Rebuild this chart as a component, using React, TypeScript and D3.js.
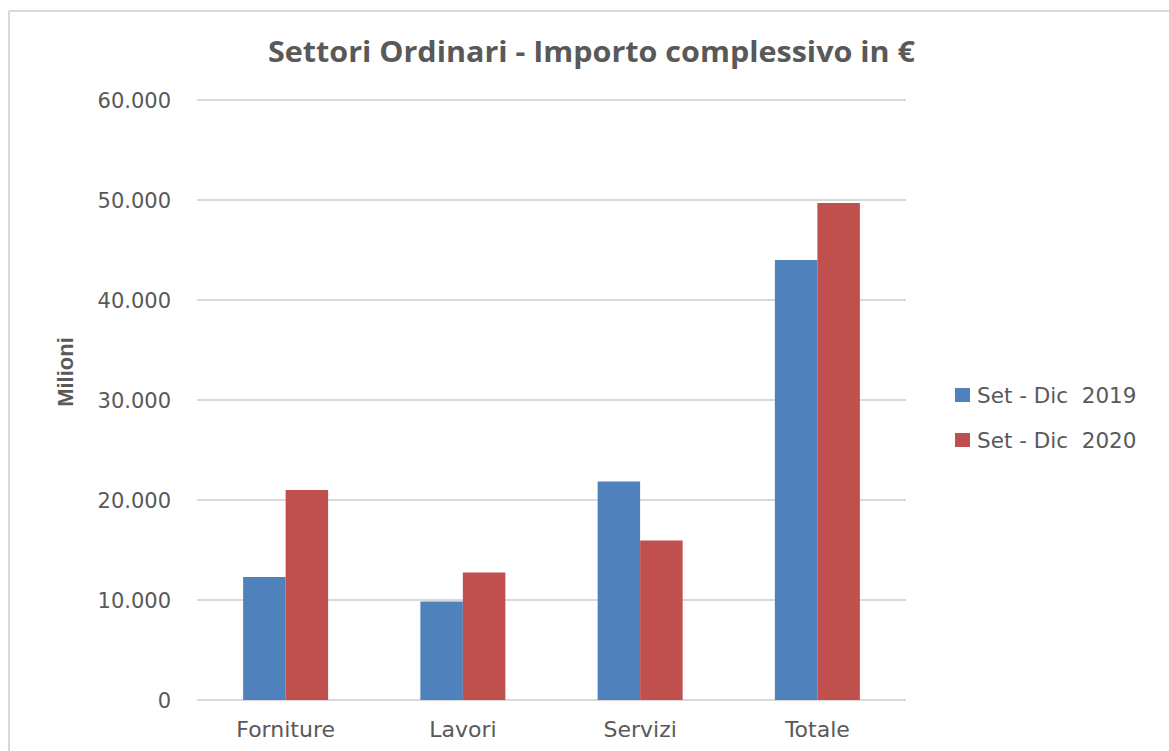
import React from "react";
import * as d3 from "d3";

const categories = ["Forniture", "Lavori", "Servizi", "Totale"];
const seriesNames = ["Set - Dic  2019", "Set - Dic  2020"];
const values2019 = [12300, 9850, 21850, 44000];
const values2020 = [21000, 12750, 15950, 49700];
const yTicks = [0, 10000, 20000, 30000, 40000, 50000, 60000];
const colors = ["#4F81BD", "#C0504D"];

const W = 1169;
const H = 751;
const plot = { left: 197, right: 906, top: 100, bottom: 700 };

const fmt = (v: number) => (v === 0 ? "0" : d3.format(",")(v).replace(/,/g, "."));

export default function App() {
  const x = d3.scaleBand<string>().domain(categories).range([plot.left, plot.right]).paddingInner(0).paddingOuter(0);
  const y = d3.scaleLinear().domain([0, 60000]).range([plot.bottom, plot.top]);
  const barW = 42.5;
  const series = [values2019, values2020];
  const textColor = "#595959";
  const font = "'DejaVu Sans', Verdana, sans-serif";

  return (
    <svg width={W} height={H} style={{ position: "absolute", left: 0, top: 0, background: "#fff" }}>
      <rect x={0} y={0} width={W} height={H} fill="#fff" />
      <line x1={9} y1={11} x2={W} y2={11} stroke="#d9d9d9" strokeWidth={2} />
      <line x1={9} y1={11} x2={9} y2={H} stroke="#d9d9d9" strokeWidth={2} />
      <text
        x={268}
        y={62}
        textLength={647}
        lengthAdjust="spacingAndGlyphs"
        fontFamily="'Open Sans', sans-serif"
        fontWeight="bold"
        fontSize={29}
        fill={textColor}
      >
        Settori Ordinari - Importo complessivo in €
      </text>
      {yTicks.map((t) => (
        <g key={t}>
          <line x1={plot.left} x2={plot.right} y1={y(t)} y2={y(t)} stroke="#d9d9d9" strokeWidth={2} />
          <text x={171} y={y(t)} dy="0.36em" textAnchor="end" fontFamily={font} fontSize={21} fill={textColor}>
            {fmt(t)}
          </text>
        </g>
      ))}
      <text
        transform={`translate(${73},${372}) rotate(-90)`}
        textAnchor="middle"
        fontFamily="'Liberation Sans', Arial, sans-serif"
        fontWeight="bold"
        fontSize={22}
        fill={textColor}
      >
        Milioni
      </text>
      {categories.map((c, i) => {
        const cx = (x(c) as number) + x.bandwidth() / 2;
        return (
          <g key={c}>
            {series.map((s, j) => (
              <rect
                key={j}
                x={cx - barW + j * barW}
                y={y(s[i])}
                width={barW}
                height={y(0) - y(s[i])}
                fill={colors[j]}
              />
            ))}
            <text x={cx} y={737} textAnchor="middle" fontFamily={font} fontSize={22} fill={textColor}>
              {c}
            </text>
          </g>
        );
      })}
      {seriesNames.map((n, j) => (
        <g key={n}>
          <rect x={955} y={388 + j * 45} width={15} height={14} fill={colors[j]} />
          <text x={977} y={402.5 + j * 45} fontFamily={font} fontSize={21.5} fill={textColor} style={{ whiteSpace: "pre" }}>
            {n}
          </text>
        </g>
      ))}
    </svg>
  );
}
